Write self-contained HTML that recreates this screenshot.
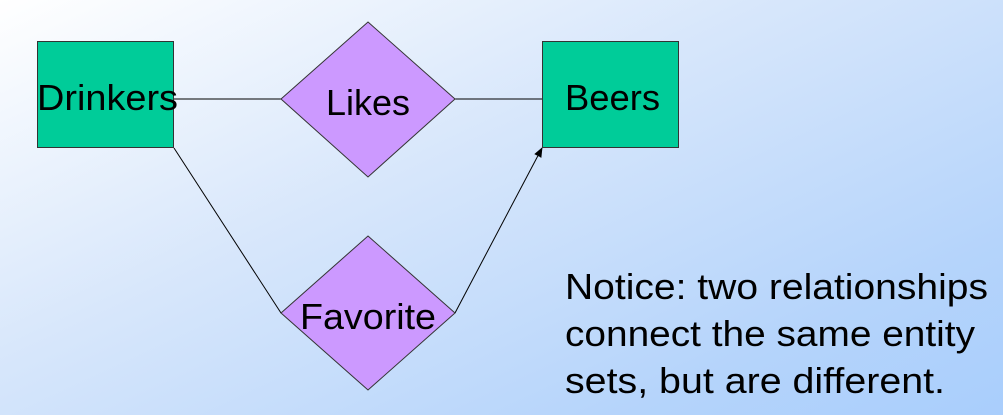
<!DOCTYPE html>
<html><head><style>
html,body{margin:0;padding:0;}
body{width:1003px;height:415px;overflow:hidden;background:linear-gradient(155deg,#ffffff 0%,#d8e7fb 40%,#b5d4fb 80%,#a9cefc 100%);}
svg{display:block}
text{font-family:"Liberation Sans",sans-serif;font-size:36px;fill:#000}
</style></head><body>
<svg width="1003" height="415" viewBox="0 0 1003 415">
<defs><marker id="a" markerWidth="10" markerHeight="10" refX="9" refY="5" orient="auto" markerUnits="userSpaceOnUse"><path d="M0,1 L10,5 L0,9 z" fill="#000"/></marker></defs>
<line x1="174" y1="99" x2="281" y2="99" stroke="#000" stroke-width="1"/>
<line x1="455" y1="99" x2="542" y2="99" stroke="#000" stroke-width="1"/>
<line x1="174" y1="148" x2="281" y2="313" stroke="#000" stroke-width="1"/>
<line x1="455" y1="313" x2="542" y2="148" stroke="#000" stroke-width="1" marker-end="url(#a)"/>
<rect x="37.5" y="41.5" width="136" height="106" fill="#00cc99" stroke="#333" stroke-width="1"/>
<rect x="542.5" y="41.5" width="136" height="106" fill="#00cc99" stroke="#333" stroke-width="1"/>
<polygon points="368,22 455,99 368,177 281,99" fill="#cc99ff" stroke="#333" stroke-width="1"/>
<polygon points="368,236 455,313 368,390 281,313" fill="#cc99ff" stroke="#333" stroke-width="1"/>
<text x="37" y="110" textLength="141" lengthAdjust="spacingAndGlyphs">Drinkers</text>
<text x="326" y="115" textLength="84" lengthAdjust="spacingAndGlyphs">Likes</text>
<text x="565" y="110" textLength="95" lengthAdjust="spacingAndGlyphs">Beers</text>
<text x="300" y="329" textLength="136" lengthAdjust="spacingAndGlyphs">Favorite</text>
<text x="565" y="299" textLength="423" lengthAdjust="spacingAndGlyphs">Notice: two relationships</text>
<text x="565" y="346" textLength="410" lengthAdjust="spacingAndGlyphs">connect the same entity</text>
<text x="565" y="393" textLength="380" lengthAdjust="spacingAndGlyphs">sets, but are different.</text>
</svg>
</body></html>
